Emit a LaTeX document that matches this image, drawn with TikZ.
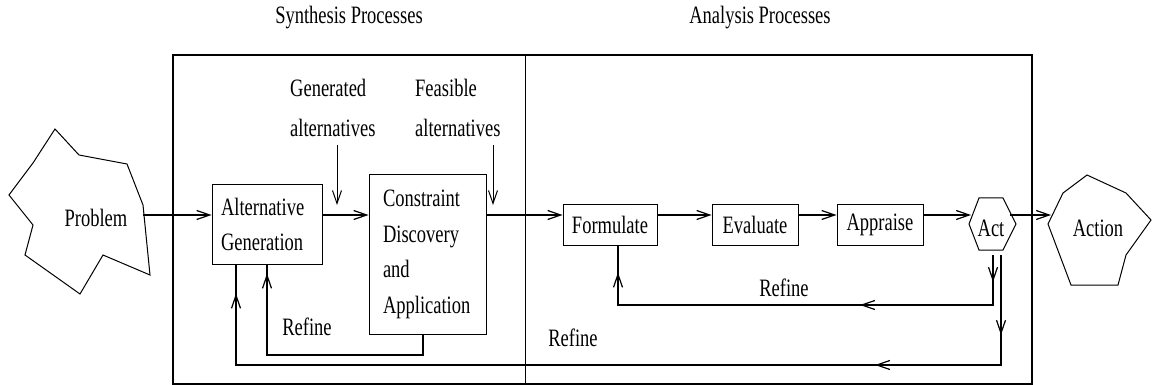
\documentclass[tikz,border=0pt]{standalone}
\usepackage{fontspec}
\setmainfont{Liberation Serif}[FakeStretch=0.74]
\usetikzlibrary{arrows.meta,decorations.markings}
\begin{document}
\begin{tikzpicture}[x=1pt,y=-1pt,
  >={Straight Barb[length=13pt,width=9pt]},
  txt/.style={font=\fontsize{25pt}{35pt}\selectfont, inner sep=0pt},
  box/.style={draw, line width=1pt, inner ysep=0pt, align=left, font=\fontsize{25pt}{35.5pt}\selectfont},
  conn/.style={line width=1.2pt},
  shp/.style={line width=1pt, line join=miter}
]
\useasboundingbox (0,0) rectangle (1152,385);
% frame
\draw[line width=1.2pt] (173,55) rectangle (1032,384);
\draw[line width=1pt] (525,55) -- (525,384);
% titles
\node[txt] (tsyn) at (349,18) {Synthesis Processes};
\node[txt] (tana) at (760,18) {Analysis Processes};
% problem polygon
\draw[shp] (55,129) -- (79,155) -- (127,164) -- (143,205) -- (150,275) -- (103,255) -- (80,294) -- (25,255) -- (33,225) -- (9,195) -- (33,163) -- cycle;
\node[txt] (prob) at (96,218) {Problem};
\coordinate (probE) at (143,215);
\coordinate (row) at (0,215);
% boxes
\node[box, minimum width=110pt, minimum height=79pt, inner xsep=9pt, text width=92pt] (ag) at (267,224.5) {Alternative\\Generation};
\node[box, minimum width=117pt, minimum height=159pt, inner xsep=14pt, text width=89pt] (cd) at (427.5,254.5) {Constraint\\Discovery\\and\\Application};
\node[box, minimum width=94pt, minimum height=40pt, inner xsep=0pt, align=center] (fm) at (610,225) {Formulate};
\node[box, minimum width=86pt, minimum height=40pt, inner xsep=0pt, align=center] (ev) at (755,225) {Evaluate};
\node[box, minimum width=86pt, minimum height=40pt, inner xsep=0pt, align=center] (ap) at (880,225) {Appraise};
% act hexagon
\draw[shp] (969,224) -- (979,198) -- (1003,198) -- (1016,224) -- (1003,250) -- (979,250) -- cycle;
\node[txt] (act) at (991,228) {Act};
\coordinate (actL) at (971,215);
\coordinate (actR) at (1010,215);
\coordinate (actB1) at (993,255);
\coordinate (actB2) at (1001,255);
% action polygon
\draw[shp] (1087,175) -- (1126,193) -- (1151,220) -- (1126,255) -- (1118,285) -- (1071,285) -- (1048,224) -- (1063,193) -- cycle;
\node[txt] (action) at (1098,228) {Action};
\coordinate (actionW) at (1051,215);
% labels
\node[txt, align=left, anchor=west, font=\fontsize{25pt}{40pt}\selectfont] (gen) at (290,108) {Generated\\alternatives};
\node[txt, align=left, anchor=west, font=\fontsize{25pt}{40pt}\selectfont] (fea) at (415,108) {Feasible\\alternatives};
\coordinate (genA) at (337,145);
\coordinate (genB) at (337,205);
\coordinate (feaA) at (493,145);
\coordinate (feaB) at (493,205);
\node[txt] (ref1) at (307,327) {Refine};
\node[txt] (ref2) at (784,288) {Refine};
\node[txt] (ref3) at (573,338) {Refine};
% main row
\draw[conn,->] (probE) -- (ag.west |- row);
\draw[conn,->] (ag.east |- row) -- (cd.west |- row);
\draw[conn,->] (cd.east |- row) -- (fm.west |- row);
\draw[conn,->] (fm.east |- row) -- (ev.west |- row);
\draw[conn,->] (ev.east |- row) -- (ap.west |- row);
\draw[conn,->] (ap.east |- row) -- (actL);
\draw[conn,->] (actR) -- (actionW);
\draw[line width=1pt,->] (genA) -- (genB);
\draw[line width=1pt,->] (feaA) -- (feaB);
% inner synthesis refine loop
\draw[conn, postaction={decorate}, decoration={markings, mark=at position -9pt with {\arrow{>}}}]
  (cd.south -| 423,0) -- (423,355) -- (267,355) -- (ag.south);
% formulate refine loop
\draw[conn, postaction={decorate}, decoration={markings,
   mark=at position 27pt with {\arrow{>}},
   mark=at position 183pt with {\arrow{>}},
   mark=at position -27pt with {\arrow{>}}}]
  (actB1) -- (993,305) -- (618,305) -- (fm.south -| 618,0);
% outer refine loop
\draw[conn, postaction={decorate}, decoration={markings,
   mark=at position 80pt with {\arrow{>}},
   mark=at position 236pt with {\arrow{>}},
   mark=at position -29pt with {\arrow{>}}}]
  (actB2) -- (1001,365) -- (236,365) -- (ag.south -| 236,0);
\end{tikzpicture}
\end{document}
